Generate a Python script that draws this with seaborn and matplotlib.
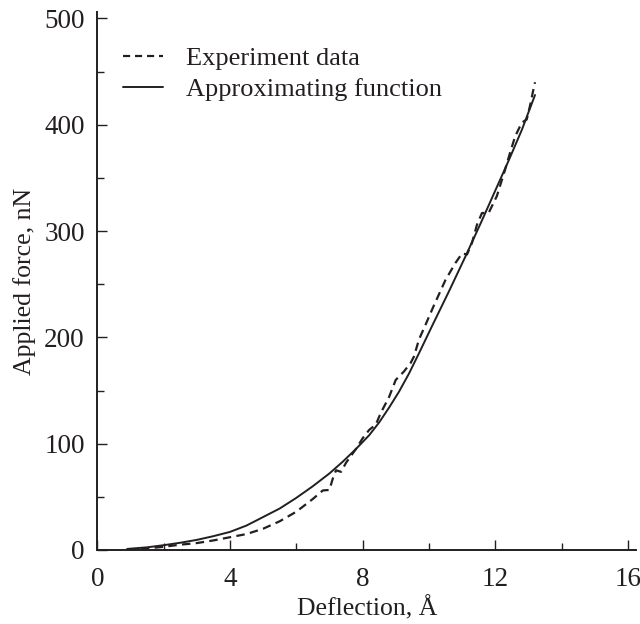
import matplotlib
matplotlib.use("Agg")
import matplotlib.pyplot as plt
import seaborn as sns
import pandas as pd
from matplotlib.ticker import MultipleLocator

# Experiment data (dashed)
exp_x = [0.9, 1.5, 2.0, 2.5, 3.0, 3.5, 4.0, 4.5, 5.0, 5.5, 6.0, 6.5, 6.8, 7.0, 7.1, 7.2,
         7.35, 7.5, 7.8, 8.0, 8.2, 8.4, 8.55, 8.8, 9.0, 9.25, 9.45, 9.55, 9.7, 9.9, 10.15,
         10.5, 10.8, 11.0, 11.15, 11.3, 11.45, 11.6, 11.8, 12.05, 12.3, 12.45, 12.6, 12.8,
         12.95, 13.05, 13.15, 13.2]
exp_y = [0.5, 1.5, 3, 5, 6.5, 9, 12, 15, 20, 27, 36, 48, 56, 56.5, 67, 75,
         73.5, 82, 95, 105, 113, 118, 129, 144, 160, 168, 176, 182, 198, 212, 230,
         254, 270, 279, 278, 289, 306, 317, 317, 333, 358, 374, 389, 402,
         405, 418, 433, 440]

# Approximating function (solid)
fit_x = [0.9, 1.5, 2.0, 2.5, 3.0, 3.5, 4.0, 4.5, 5.0, 5.5, 6.0, 6.5, 7.0, 7.4, 7.8,
         8.2, 8.5, 8.8, 9.1, 9.4, 9.7, 10.1, 10.6, 11.1, 11.6, 12.0, 12.4, 12.8, 13.2]
fit_y = [1, 2.5, 4.5, 6.8, 9.5, 13, 17, 23, 31, 39, 49, 60, 72, 83, 95,
         108, 120, 134, 149, 166, 185, 211, 243, 276, 310, 338, 366, 395, 428]

x_ticks = [0, 4, 8, 12, 16]
y_ticks = [0, 100, 200, 300, 400, 500]

sns.set_theme(style="ticks")
plt.rcParams['font.family'] = ['Liberation Serif', 'DejaVu Serif']
ink = "#231f20"
dash = (3.8, 2.4)

fig = plt.figure(figsize=(6.4, 6.24), dpi=100)
ax = fig.add_axes([0.152, 0.1186, 0.842, 0.862])

df_exp = pd.DataFrame({"x": exp_x, "y": exp_y})
df_fit = pd.DataFrame({"x": fit_x, "y": fit_y})

sns.lineplot(data=df_exp, x="x", y="y", ax=ax, color=ink, linewidth=1.6,
             label="Experiment data", sort=False)
sns.lineplot(data=df_fit, x="x", y="y", ax=ax, color=ink, linewidth=1.4,
             label="Approximating function", sort=False)
ax.lines[0].set_dashes(dash)

ax.set_xlim(0, 16.25)
ax.set_ylim(0, 506)
ax.set_xticks(x_ticks)
ax.set_yticks(y_ticks)
ax.xaxis.set_minor_locator(MultipleLocator(2))
ax.yaxis.set_minor_locator(MultipleLocator(50))

ax.tick_params(which="both", direction="in", colors=ink, labelsize=19.5, width=1.0)
ax.tick_params(axis="x", which="major", length=7, pad=12)
ax.tick_params(axis="y", which="major", length=7, pad=9)
ax.tick_params(which="minor", length=5)
for s in ["top", "right"]:
    ax.spines[s].set_visible(False)
for s in ["left", "bottom"]:
    ax.spines[s].set_linewidth(1.4)
    ax.spines[s].set_color(ink)

ax.set_xlabel("Deflection, Å", fontsize=18.5, color=ink, labelpad=3)
ax.set_ylabel("Applied force, nN", fontsize=18.5, color=ink, labelpad=6)

leg = ax.legend(loc="upper left", bbox_to_anchor=(0.004, 0.98), frameon=False,
                fontsize=19, handlelength=1.5, handletextpad=0.87, labelspacing=0.3)
for t in leg.get_texts():
    t.set_color(ink)
h = leg.legend_handles[0]
h.set_linestyle((0, (3.2, 2.2)))

fig.savefig("out.png", dpi=100)
